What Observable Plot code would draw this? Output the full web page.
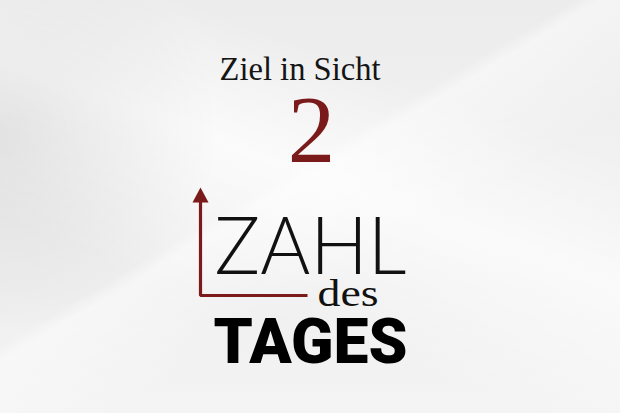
<!DOCTYPE html>
<html>
<head>
<meta charset="utf-8">
<script src="https://cdn.jsdelivr.net/npm/d3@7"></script>
<script src="https://cdn.jsdelivr.net/npm/@observablehq/plot@0.6"></script>
<style>
  html, body { margin: 0; padding: 0; }
  body {
    width: 620px; height: 413px; overflow: hidden;
    background:
      radial-gradient(ellipse 220px 200px at 0% 32%, rgba(0,0,0,0.08), rgba(0,0,0,0) 100%),
      linear-gradient(149deg, rgba(255,255,255,0) 44%, rgba(255,255,255,0.45) 46%, rgba(255,255,255,0) 62%),
      linear-gradient(200deg, rgba(255,255,255,0) 25%, rgba(255,255,255,0.7) 45%, rgba(255,255,255,0) 70%),
      linear-gradient(180deg, #ececec 0%, #f1f1f1 40%, #efefef 70%, #f4f4f4 100%);
  }
  #chart svg { display: block; }
</style>
</head>
<body>
<div id="chart"></div>
<script>
// Content of the graphic
const headline = ["Ziel in Sicht"];
const numberOfTheDay = [2];
const logoWords = ["ZAHL", "des", "TAGES"];
// Arrow path of the logo (graphic coordinates, 620 x 413 space)
const arrowX = [200, 200, 307];
const arrowY = [201, 295, 295];
const headX = [192, 200, 208];
const headY = [202, 187, 202];

const red = "#7a1a1a";

const textRows = [
  {text: headline[0], x: 219, y: 79, font: "Liberation Serif", size: 33, weight: 400, fill: "#151515", anchor: "start", len: 161, adjust: "spacingAndGlyphs"},
  {text: String(numberOfTheDay[0]), x: 311, y: 161, font: "Liberation Serif", size: 95, weight: 400, fill: red, anchor: "middle", len: null},
  {text: logoWords[0], x: 214, y: 273, font: "Lato", size: 81, weight: 300, fill: "#111", anchor: "start", len: 192, adjust: "spacingAndGlyphs"},
  {text: logoWords[1], x: 317, y: 305, font: "Liberation Serif", size: 38, weight: 400, fill: "#111", anchor: "start", len: 61, adjust: "spacingAndGlyphs"},
  {text: logoWords[2], x: 213, y: 362, font: "Roboto", size: 63, weight: 900, fill: "#000", anchor: "start", len: 194, adjust: "spacingAndGlyphs"}
];

const arrowLine = arrowX.map((x, i) => ({x, y: arrowY[i]}));
const arrowHead = headX.map((x, i) => ({x, y: headY[i]}));

const textMarks = textRows.map(r => Plot.text([r], {
  x: "x", y: "y", text: "text",
  textAnchor: r.anchor, lineAnchor: "bottom",
  fontFamily: r.font, fontSize: r.size, fontWeight: r.weight,
  fill: r.fill
}));

const chart = Plot.plot({
  width: 620,
  height: 413,
  margin: 0,
  x: {domain: [0, 620], range: [0, 620], axis: null},
  y: {domain: [0, 413], range: [0, 413], axis: null},
  style: {background: "transparent", overflow: "visible"},
  marks: [
    Plot.line(arrowLine, {x: "x", y: "y", stroke: red, strokeWidth: 3.2, strokeLinejoin: "miter", strokeLinecap: "butt"}),
    Plot.line(arrowHead, {x: "x", y: "y", fill: red, stroke: "none", curve: "linear-closed"}),
    ...textMarks
  ]
});

document.getElementById("chart").appendChild(chart);

// fit text widths to the reference lettering
const texts = chart.querySelectorAll("text");
textRows.forEach((r, i) => {
  const t = texts[i];
  if (t && r.len) {
    t.setAttribute("textLength", r.len);
    t.setAttribute("lengthAdjust", r.adjust);
  }
});
</script>
</body>
</html>
